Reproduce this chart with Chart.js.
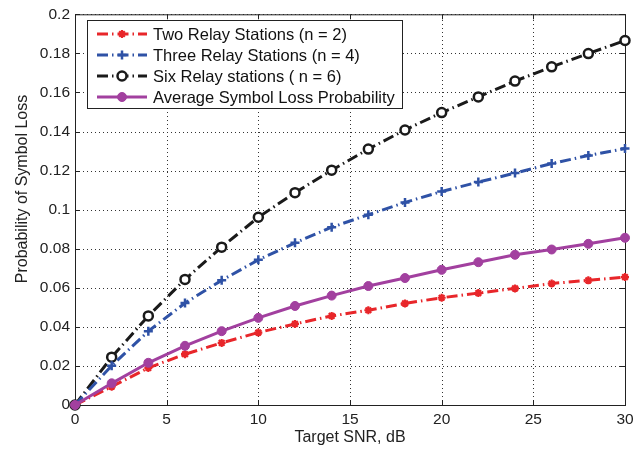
<!DOCTYPE html>
<html>
<head>
<meta charset="utf-8">
<script src="https://cdn.jsdelivr.net/npm/chart.js@4.4.1/dist/chart.umd.min.js"></script>
<style>
  html, body { margin: 0; padding: 0; background: #fff; }
  canvas { display: block; }
</style>
</head>
<body>
<canvas id="chart" width="642" height="449"></canvas>
<script>
// values
const snr = [0, 2, 4, 6, 8, 10, 12, 14, 16, 18, 20, 22, 24, 26, 28, 30];
const twoRelay = [0, 0.0094, 0.019, 0.026, 0.0318, 0.0371, 0.0415, 0.0456, 0.0485, 0.052, 0.0549, 0.0573, 0.0597, 0.0622, 0.0638, 0.0655];
const threeRelay = [0, 0.0201, 0.0378, 0.0522, 0.0638, 0.0743, 0.083, 0.091, 0.0974, 0.1037, 0.1093, 0.1141, 0.1187, 0.1236, 0.1277, 0.1313];
const sixRelay = [0, 0.0245, 0.0456, 0.0643, 0.0808, 0.0961, 0.1087, 0.1202, 0.131, 0.1408, 0.1497, 0.1577, 0.1658, 0.1731, 0.1799, 0.1866];
const average = [0, 0.0111, 0.0216, 0.0303, 0.0378, 0.0446, 0.0507, 0.056, 0.0609, 0.065, 0.0692, 0.0731, 0.0769, 0.0796, 0.0825, 0.0856];

const seriesNames = [
  'Two Relay Stations (n = 2)',
  'Three Relay Stations (n = 4)',
  'Six Relay stations ( n = 6)',
  'Average Symbol Loss Probability'
];
const xTicks = [0, 5, 10, 15, 20, 25, 30];
const yTicks = [0, 0.02, 0.04, 0.06, 0.08, 0.1, 0.12, 0.14, 0.16, 0.18, 0.2];

const FONT = "'Liberation Sans', Arial, sans-serif";
const DASHDOT = [11, 4, 1.5, 4];

function toPoints(ys) {
  return snr.map((x, i) => ({ x: x, y: ys[i] }));
}

// draw a marker by hand for the legend
function drawMarker(ctx, ds, x, y) {
  const r = ds.pointRadius;
  ctx.save();
  ctx.setLineDash([]);
  ctx.strokeStyle = ds.pointBorderColor || ds.borderColor;
  ctx.fillStyle = ds.pointBackgroundColor || ds.borderColor;
  ctx.lineWidth = ds.pointBorderWidth;
  ctx.beginPath();
  if (ds.pointStyle === 'circle') {
    ctx.arc(x, y, r, 0, Math.PI * 2);
    ctx.fill();
    ctx.stroke();
  } else {
    ctx.moveTo(x - r, y); ctx.lineTo(x + r, y);
    ctx.moveTo(x, y - r); ctx.lineTo(x, y + r);
    if (ds.pointStyle === 'star') {
      const d = r * 0.707;
      ctx.moveTo(x - d, y - d); ctx.lineTo(x + d, y + d);
      ctx.moveTo(x - d, y + d); ctx.lineTo(x + d, y - d);
    }
    ctx.stroke();
  }
  ctx.restore();
}

const matlabAxes = {
  id: 'matlabAxes',
  beforeDatasetsDraw(chart) {
    const { ctx, chartArea: a, scales } = chart;
    ctx.save();
    // dotted grid
    ctx.strokeStyle = '#333';
    ctx.lineWidth = 1;
    ctx.setLineDash([1, 3]);
    ctx.beginPath();
    xTicks.forEach(v => {
      const px = Math.round(scales.x.getPixelForValue(v)) + 0.5;
      ctx.moveTo(px, a.bottom); ctx.lineTo(px, a.top);
    });
    yTicks.forEach(v => {
      const py = Math.round(scales.y.getPixelForValue(v)) + 0.5;
      ctx.moveTo(a.left, py); ctx.lineTo(a.right, py);
    });
    ctx.stroke();
    // frame and inward ticks
    ctx.strokeStyle = '#222';
    ctx.setLineDash([]);
    ctx.strokeRect(a.left + 0.5, a.top + 0.5, a.right - a.left, a.bottom - a.top);
    ctx.beginPath();
    xTicks.forEach(v => {
      const px = Math.round(scales.x.getPixelForValue(v)) + 0.5;
      ctx.moveTo(px, a.bottom); ctx.lineTo(px, a.bottom - 5);
      ctx.moveTo(px, a.top); ctx.lineTo(px, a.top + 5);
    });
    yTicks.forEach(v => {
      const py = Math.round(scales.y.getPixelForValue(v)) + 0.5;
      ctx.moveTo(a.left, py); ctx.lineTo(a.left + 5, py);
      ctx.moveTo(a.right, py); ctx.lineTo(a.right - 5, py);
    });
    ctx.stroke();
    ctx.restore();
  },
  afterDraw(chart) {
    const ctx = chart.ctx;
    ctx.save();
    // y axis title
    ctx.save();
    ctx.translate(23, 189);
    ctx.rotate(-Math.PI / 2);
    ctx.fillStyle = '#222';
    ctx.font = '16px ' + FONT;
    ctx.textAlign = 'center';
    ctx.textBaseline = 'middle';
    ctx.fillText('Probability of Symbol Loss', 0, 0);
    ctx.restore();
    // legend box
    const bx = 87.5, by = 20.5, bw = 315, bh = 88;
    ctx.fillStyle = '#fff';
    ctx.fillRect(bx, by, bw, bh);
    ctx.strokeStyle = '#222';
    ctx.lineWidth = 1;
    ctx.strokeRect(bx, by, bw, bh);
    chart.data.datasets.forEach((ds, i) => {
      const y = 34 + i * 21;
      ctx.save();
      ctx.strokeStyle = ds.borderColor;
      ctx.lineWidth = ds.borderWidth;
      ctx.setLineDash(ds.borderDash || []);
      ctx.beginPath();
      ctx.moveTo(97, y); ctx.lineTo(147, y);
      ctx.stroke();
      ctx.restore();
      drawMarker(ctx, ds, 122, y);
      ctx.fillStyle = '#111';
      ctx.font = '16.5px ' + FONT;
      ctx.textBaseline = 'middle';
      ctx.fillText(seriesNames[i], 153, y + 1);
    });
    ctx.restore();
  }
};

const ctx = document.getElementById('chart').getContext('2d');
new Chart(ctx, {
  type: 'line',
  data: {
    datasets: [
      {
        label: seriesNames[0],
        data: toPoints(twoRelay),
        borderColor: '#e8262a',
        borderWidth: 3,
        borderDash: DASHDOT,
        pointStyle: 'star',
        pointRadius: 4,
        pointBorderWidth: 2.2,
        pointBackgroundColor: '#e8262a',
        order: 1
      },
      {
        label: seriesNames[1],
        data: toPoints(threeRelay),
        borderColor: '#2f52a6',
        borderWidth: 3,
        borderDash: DASHDOT,
        pointStyle: 'cross',
        pointRadius: 4.5,
        pointBorderWidth: 2.5,
        pointBackgroundColor: '#2f52a6',
        order: 1
      },
      {
        label: seriesNames[2],
        data: toPoints(sixRelay),
        borderColor: '#1a1a1a',
        borderWidth: 3,
        borderDash: DASHDOT,
        pointStyle: 'circle',
        pointRadius: 4.5,
        pointBorderWidth: 2.5,
        pointBackgroundColor: '#fff',
        order: 1
      },
      {
        label: seriesNames[3],
        data: toPoints(average),
        borderColor: '#a2409f',
        borderWidth: 3,
        pointStyle: 'circle',
        pointRadius: 4.5,
        pointBorderWidth: 1,
        pointBackgroundColor: '#a2409f',
        order: 0
      }
    ]
  },
  options: {
    responsive: false,
    animation: false,
    clip: false,
    layout: { padding: { left: 0, right: 17, top: 12, bottom: 0 } },
    elements: { line: { tension: 0 } },
    plugins: {
      legend: { display: false },
      tooltip: { enabled: false }
    },
    scales: {
      x: {
        type: 'linear',
        min: 0,
        max: 30,
        afterFit: s => { s.height = 44; },
        afterBuildTicks: s => { s.ticks = xTicks.map(v => ({ value: v })); },
        ticks: { color: '#222', padding: 5, font: { family: FONT, size: 15.5 } },
        grid: { display: false, drawTicks: false, tickLength: 0 },
        border: { display: false },
        title: {
          display: true,
          text: 'Target SNR, dB',
          color: '#222',
          font: { family: FONT, size: 16, lineHeight: 1.2 },
          padding: { top: 0, bottom: 1.5 }
        }
      },
      y: {
        min: 0,
        max: 0.2,
        afterFit: s => { s.width = 75; },
        afterBuildTicks: s => { s.ticks = yTicks.map(v => ({ value: v })); },
        ticks: {
          color: '#222',
          padding: 5,
          font: { family: FONT, size: 15.5 },
          callback: v => String(+v.toFixed(2))
        },
        grid: { display: false, drawTicks: false, tickLength: 0 },
        border: { display: false }
      }
    }
  },
  plugins: [matlabAxes]
});
</script>
</body>
</html>
